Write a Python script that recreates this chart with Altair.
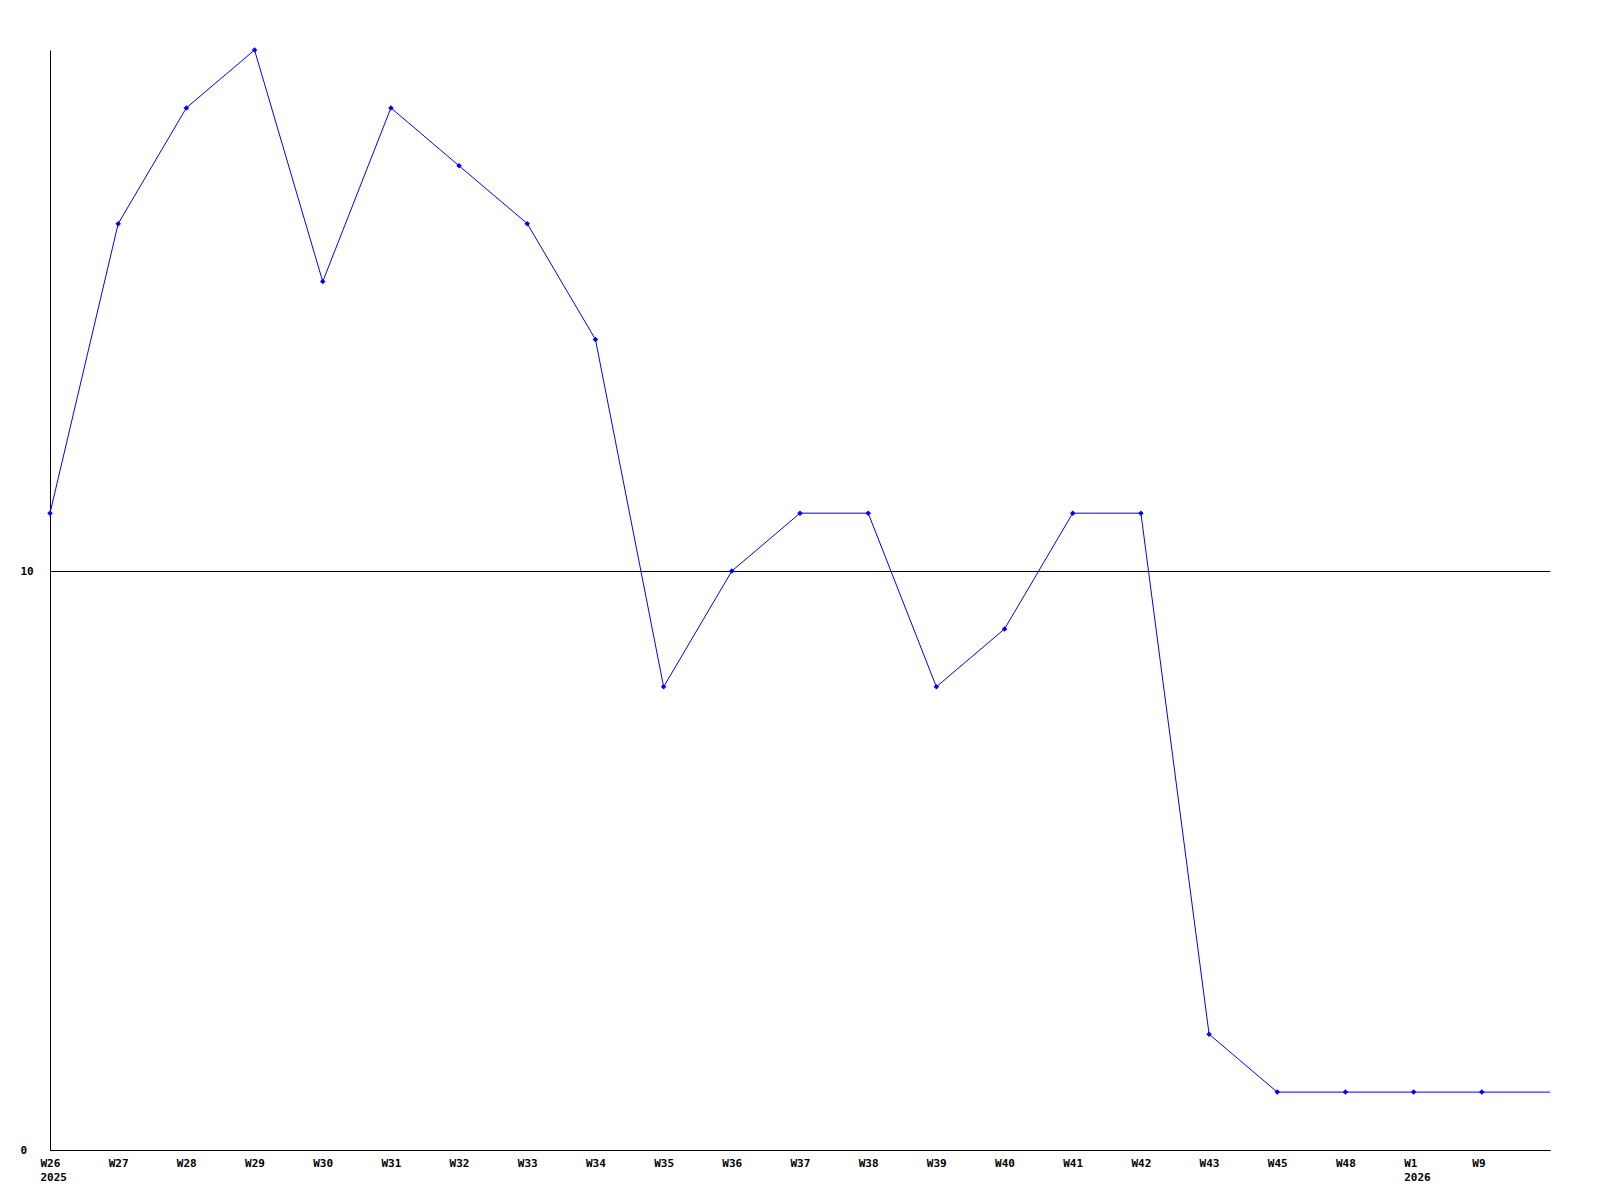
import json
import altair as alt
import pandas as pd

weeks = ["W26", "W27", "W28", "W29", "W30", "W31", "W32", "W33", "W34", "W35", "W36",
         "W37", "W38", "W39", "W40", "W41", "W42", "W43", "W45", "W48", "W1", "W9"]
years = ["2025", "", "", "", "", "", "", "", "", "", "",
         "", "", "", "", "", "", "", "", "", "2026", ""]
values = [11, 16, 18, 19, 15, 18, 17, 16, 14, 8, 10,
          11, 11, 8, 9, 11, 11, 2, 1, 1, 1, 1]
# the series runs on to the chart's right edge at its latest value
tail_value = 1

pts = pd.DataFrame({"i": list(range(len(weeks))), "v": values})
line_df = pd.DataFrame({"i": list(range(len(weeks) + 1)), "v": values + [tail_value]})

label_expr = ("[" + json.dumps(weeks) + "[datum.value], " + json.dumps(years) + "[datum.value]]")

FONT = "DejaVu Sans Mono"

x = alt.X("i:Q", scale=alt.Scale(domain=[0, len(weeks)], nice=False, zero=False),
          axis=alt.Axis(values=list(range(len(weeks))), labelExpr=label_expr, title=None,
                        grid=False, ticks=False, tickSize=0, labelPadding=7,
                        labelBaseline="top", labelAlign="left", labelOffset=-10,
                        labelLineHeight=14, labelBound=False, labelFlush=False,
                        labelFont=FONT, labelFontSize=11, labelFontWeight="bold",
                        labelColor="black", domainColor="black", labelOverlap=False))
y = alt.Y("v:Q", scale=alt.Scale(domain=[0, 19], nice=False),
          axis=alt.Axis(values=[0, 10], format="d", title=None, grid=True, gridColor="black",
                        gridOpacity=1, gridWidth=1, ticks=False, tickSize=0,
                        labelAlign="left", labelPadding=30, labelBaseline="middle",
                        labelFont=FONT, labelFontSize=11, labelFontWeight="bold",
                        labelColor="black", domainColor="black"))

line = alt.Chart(line_df).mark_line(color="#0000ff", strokeWidth=1).encode(x=x, y=y)
dots = alt.Chart(pts).mark_point(shape="diamond", filled=True, color="#0000ff",
                                 size=30, opacity=1).encode(x="i:Q", y="v:Q")

chart = (line + dots).properties(
    width=1500, height=1100,
    autosize=alt.AutoSizeParams(type="none"),
    padding={"left": 42, "top": 42, "right": 42, "bottom": 42},
    background="white",
).configure_view(stroke=None, strokeWidth=0)

chart.save("out.html", embed_options={"renderer": "svg", "actions": False})
